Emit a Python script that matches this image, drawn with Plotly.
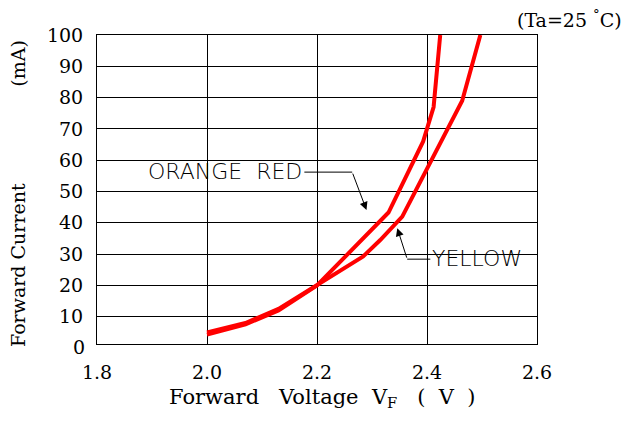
import plotly.graph_objects as go

# Data
orange_v = [2.0, 2.07, 2.13, 2.2, 2.33, 2.393, 2.412, 2.424]
orange_i = [4.3, 7.6, 12.0, 20.0, 43.3, 66.0, 77.0, 100.0]
yellow_v = [2.0, 2.07, 2.13, 2.2, 2.284, 2.315, 2.355, 2.464, 2.497]
yellow_i = [5.0, 8.0, 12.5, 20.0, 29.3, 34.5, 42.0, 79.0, 100.0]

x_ticks = [1.8, 2.0, 2.2, 2.4, 2.6]
x_tick_labels = ["1.8", "2.0", "2.2", "2.4", "2.6"]
y_ticks = [10, 20, 30, 40, 50, 60, 70, 80, 90, 100]
y_tick_labels = ["10", "20", "30", "40", "50", "60", "70", "80", "90", "100"]

SERIF = "DejaVu Serif"
SANS = "DejaVu Sans"
NB = "\u00a0"
PAGE_OFFSET = 8  # default body margin of the html page

fig = go.Figure()
fig.add_trace(go.Scatter(x=orange_v, y=orange_i, mode="lines", name="ORANGE RED",
                         line=dict(color="#ff0000", width=4)))
fig.add_trace(go.Scatter(x=yellow_v, y=yellow_i, mode="lines", name="YELLOW",
                         line=dict(color="#ff0000", width=4)))

# leader lines (horizontal parts)
fig.add_shape(type="line", xref="x", yref="y", x0=2.177, y0=56.2, x1=2.264, y1=56.2,
              line=dict(color="black", width=1))
fig.add_shape(type="line", xref="x", yref="y", x0=2.364, y0=28.4, x1=2.406, y1=28.4,
              line=dict(color="black", width=1))

annotations = [
    dict(x=2.290, y=44.1, ax=2.264, ay=56.2, xref="x", yref="y", axref="x", ayref="y",
         text="", showarrow=True, arrowhead=2, arrowsize=1.6, arrowwidth=1, arrowcolor="black",
         standoff=0),
    dict(x=2.346, y=38.3, ax=2.364, ay=28.4, xref="x", yref="y", axref="x", ayref="y",
         text="", showarrow=True, arrowhead=2, arrowsize=1.6, arrowwidth=1, arrowcolor="black",
         standoff=0),
    dict(x=2.177, y=56.4, xref="x", yref="y", xanchor="right", yanchor="middle",
         text="ORANGE" + NB + NB + "RED", showarrow=False,
         font=dict(family=SANS, size=22, color="black", weight=300)),
    dict(x=2.406, y=28.6, xref="x", yref="y", xanchor="left", yanchor="middle",
         text="YELLOW", showarrow=False,
         font=dict(family=SANS, size=22, color="black", weight=300)),
    # ambient temperature note
    dict(x=(624 - 97) / 440, y=(344 - 19) / 309, xref="paper", yref="paper",
         xanchor="right", yanchor="middle", text="(Ta=25" + NB + "<sup>°</sup>C)", showarrow=False,
         font=dict(family=SERIF, size=19, color="black")),
    # "0" tick label (axis starts slightly above 0)
    dict(x=0, y=(344 - 347) / 309, xref="paper", yref="paper", xanchor="right", yanchor="middle",
         xshift=-10, text="0", showarrow=False,
         font=dict(family=SERIF, size=19, color="black")),
    # x axis title
    dict(x=(322 - 97) / 440, y=(344 - 398) / 309, xref="paper", yref="paper",
         xanchor="center", yanchor="middle",
         text="Forward" + NB * 3 + "Voltage" + NB * 2 + "V<sub>F</sub>" + NB * 3 + "(" + NB * 2 + "V" + NB * 2 + ")",
         showarrow=False, font=dict(family=SERIF, size=21, color="black")),
    # y axis title
    dict(x=(18 - 97) / 440, y=(344 - 194) / 309, xref="paper", yref="paper",
         xanchor="center", yanchor="middle", textangle=-90,
         text="Forward" + NB + "Current" + NB * 16 + "(mA)",
         showarrow=False, font=dict(family=SERIF, size=19, color="black")),
]

fig.update_layout(
    width=629 - PAGE_OFFSET, height=430 - PAGE_OFFSET,
    margin=dict(l=97 - PAGE_OFFSET, r=92, t=35 - PAGE_OFFSET, b=86, autoexpand=False),
    paper_bgcolor="white", plot_bgcolor="white",
    showlegend=False,
    annotations=annotations,
    xaxis=dict(range=[1.8, 2.6], tickvals=x_ticks, ticktext=x_tick_labels,
               showgrid=True, gridcolor="black", gridwidth=1,
               showline=True, linecolor="black", linewidth=1, mirror=True,
               zeroline=False, ticks="", ticklabelstandoff=11, automargin=False,
               tickfont=dict(family=SERIF, size=19, color="black")),
    yaxis=dict(range=[1.3, 100], tickvals=y_ticks, ticktext=y_tick_labels,
               showgrid=True, gridcolor="black", gridwidth=1,
               showline=True, linecolor="black", linewidth=1, mirror=True,
               zeroline=False, ticks="", ticklabelstandoff=9, automargin=False,
               tickfont=dict(family=SERIF, size=19, color="black")),
)

fig.write_html("out.html")
